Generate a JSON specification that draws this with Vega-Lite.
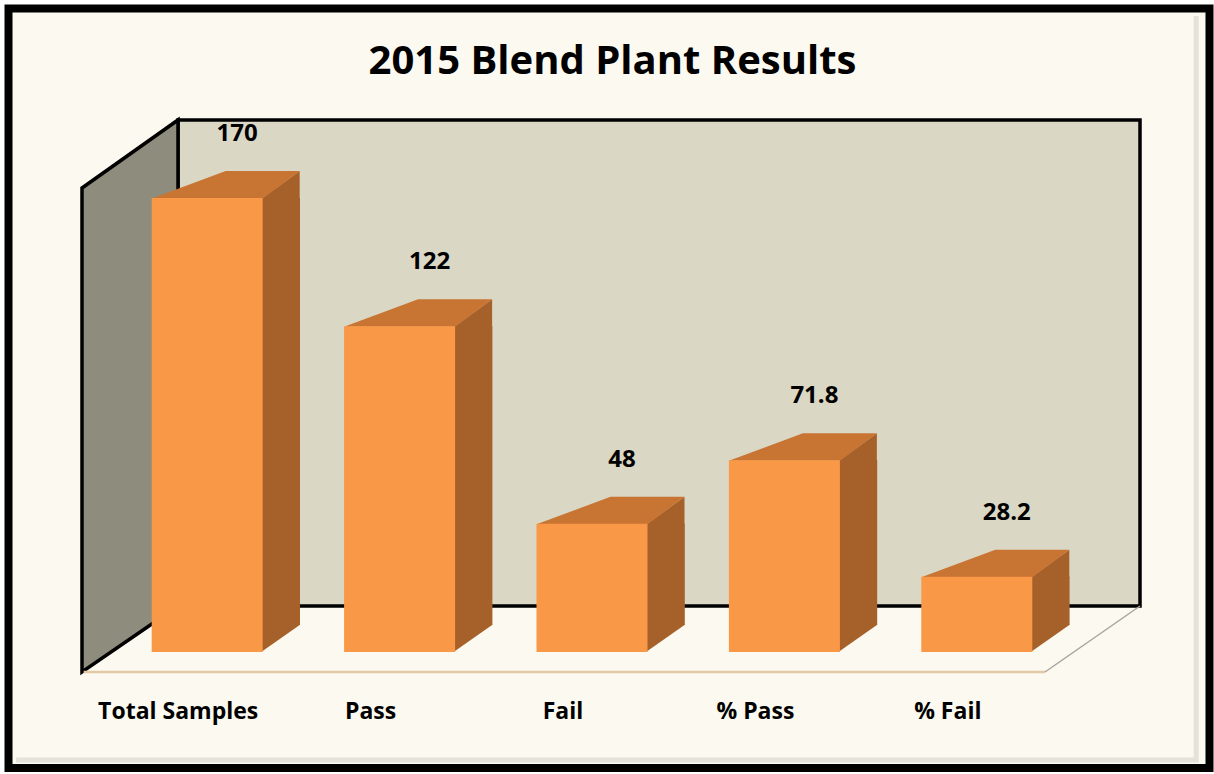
{
  "$schema": "https://vega.github.io/schema/vega-lite/v6.json",
  "width": 962,
  "height": 486,
  "autosize": {"type": "none"},
  "padding": {"left": 178, "top": 120, "right": 74, "bottom": 168},
  "background": "#FFFFFF",
  "config": {"view": {"stroke": null, "fill": null}},
  "title": {
    "text": "2015 Blend Plant Results",
    "font": "Open Sans",
    "fontWeight": "bold",
    "fontSize": 40,
    "color": "#000000",
    "anchor": "middle",
    "frame": "group",
    "dx": -46.5,
    "offset": -121.5,
    "baseline": "alphabetic"
  },
  "data": {
    "values": [
      {"category": "Total Samples", "value": 170},
      {"category": "Pass", "value": 122},
      {"category": "Fail", "value": 48},
      {"category": "% Pass", "value": 71.8},
      {"category": "% Fail", "value": 28.2}
    ]
  },
  "layer": [
    {
      "transform": [{"filter": "datum.category === 'Total Samples'"}],
      "mark": {"type": "point", "shape": "M-2.657,-5.975H9.353V1.62H-2.657Z", "size": 40000, "filled": true, "fill": "#FBF9F0", "stroke": "#000000", "strokeWidth": 8, "opacity": 1, "strokeJoin": "miter"},
      "encoding": {
        "x": {"field": "category", "type": "nominal", "scale": {"domain": ["Total Samples", "Pass", "Fail", "% Pass", "% Fail"], "paddingInner": 0.423, "paddingOuter": 0.2115}},
        "y": {"datum": 0, "type": "quantitative", "scale": {"domain": [0, 182]}, "axis": null}
      }
    },
    {
      "transform": [{"filter": "datum.category === 'Total Samples'"}],
      "mark": {"type": "point", "shape": "M9.22,-5.9V1.54H-2.58", "size": 40000, "filled": false, "stroke": "#D6D4CB", "strokeWidth": 5, "opacity": 0.6},
      "encoding": {
        "x": {"field": "category", "type": "nominal", "scale": {"domain": ["Total Samples", "Pass", "Fail", "% Pass", "% Fail"], "paddingInner": 0.423, "paddingOuter": 0.2115}},
        "y": {"datum": 0, "type": "quantitative", "scale": {"domain": [0, 182]}, "axis": null}
      }
    },
    {
      "transform": [{"filter": "datum.category === 'Total Samples'"}],
      "mark": {"type": "point", "shape": "M-0.962,-4.86H8.658V0H-0.962Z", "size": 40000, "filled": true, "fill": "#DAD7C4", "stroke": "#000000", "strokeWidth": 3.5, "opacity": 1},
      "encoding": {
        "x": {"field": "category", "type": "nominal", "scale": {"domain": ["Total Samples", "Pass", "Fail", "% Pass", "% Fail"], "paddingInner": 0.423, "paddingOuter": 0.2115}},
        "y": {"datum": 0, "type": "quantitative", "scale": {"domain": [0, 182]}, "axis": null}
      }
    },
    {
      "transform": [{"filter": "datum.category === 'Total Samples'"}],
      "mark": {"type": "point", "shape": "M-0.962,-4.86L-0.962,0L-1.922,0.66L-1.922,-4.18Z", "size": 40000, "filled": true, "fill": "#8E8C7D", "stroke": "#000000", "strokeWidth": 3.5, "opacity": 1},
      "encoding": {
        "x": {"field": "category", "type": "nominal", "scale": {"domain": ["Total Samples", "Pass", "Fail", "% Pass", "% Fail"], "paddingInner": 0.423, "paddingOuter": 0.2115}},
        "y": {"datum": 0, "type": "quantitative", "scale": {"domain": [0, 182]}, "axis": null}
      }
    },
    {
      "transform": [{"filter": "datum.category === 'Total Samples'"}],
      "mark": {"type": "point", "shape": "M-1.905,0.66L7.708,0.66", "size": 40000, "filled": false, "stroke": "#E3C9A4", "strokeWidth": 2.5, "opacity": 1},
      "encoding": {
        "x": {"field": "category", "type": "nominal", "scale": {"domain": ["Total Samples", "Pass", "Fail", "% Pass", "% Fail"], "paddingInner": 0.423, "paddingOuter": 0.2115}},
        "y": {"datum": 0, "type": "quantitative", "scale": {"domain": [0, 182]}, "axis": null}
      }
    },
    {
      "transform": [{"filter": "datum.category === 'Total Samples'"}],
      "mark": {"type": "point", "shape": "M7.708,0.66L8.658,0", "size": 40000, "filled": false, "stroke": "#A7A59C", "strokeWidth": 1.5, "opacity": 1},
      "encoding": {
        "x": {"field": "category", "type": "nominal", "scale": {"domain": ["Total Samples", "Pass", "Fail", "% Pass", "% Fail"], "paddingInner": 0.423, "paddingOuter": 0.2115}},
        "y": {"datum": 0, "type": "quantitative", "scale": {"domain": [0, 182]}, "axis": null}
      }
    },
    {
      "mark": {"type": "bar", "width": 39, "xOffset": 6.3, "yOffset": 46, "y2Offset": 19, "color": "#A6612B"},
      "encoding": {
        "x": {"field": "category", "type": "nominal", "scale": {"domain": ["Total Samples", "Pass", "Fail", "% Pass", "% Fail"], "paddingInner": 0.423, "paddingOuter": 0.2115}},
        "y": {"field": "value", "type": "quantitative", "scale": {"domain": [0, 182]}, "axis": null},
        "y2": {"datum": 0}
      }
    },
    {
      "mark": {"type": "point", "shape": "M0.54,-0.28L0.54,0L0.925,-0.27L0.925,-0.28Z", "size": 40000, "filled": true, "fill": "#A6612B", "strokeWidth": 0, "opacity": 1, "xOffset": -67, "yOffset": 46},
      "encoding": {
        "x": {"field": "category", "type": "nominal", "scale": {"domain": ["Total Samples", "Pass", "Fail", "% Pass", "% Fail"], "paddingInner": 0.423, "paddingOuter": 0.2115}},
        "y": {"datum": 0, "type": "quantitative", "scale": {"domain": [0, 182]}, "axis": null}
      }
    },
    {
      "mark": {"type": "point", "shape": "M0.54,0.01L0.925,-0.27L0.925,0.01Z", "size": 40000, "filled": true, "fill": "#A6612B", "strokeWidth": 0, "opacity": 1, "xOffset": -67, "yOffset": 46},
      "encoding": {
        "x": {"field": "category", "type": "nominal", "scale": {"domain": ["Total Samples", "Pass", "Fail", "% Pass", "% Fail"], "paddingInner": 0.423, "paddingOuter": 0.2115}},
        "y": {"field": "value", "type": "quantitative", "scale": {"domain": [0, 182]}, "axis": null}
      }
    },
    {
      "mark": {"type": "point", "shape": "M-0.555,0.005L0.555,0.005L0.925,-0.27L0.185,-0.27Z", "size": 40000, "filled": true, "fill": "#C87534", "strokeWidth": 0, "opacity": 1, "xOffset": -67, "yOffset": 46},
      "encoding": {
        "x": {"field": "category", "type": "nominal", "scale": {"domain": ["Total Samples", "Pass", "Fail", "% Pass", "% Fail"], "paddingInner": 0.423, "paddingOuter": 0.2115}},
        "y": {"field": "value", "type": "quantitative", "scale": {"domain": [0, 182]}, "axis": null}
      }
    },
    {
      "mark": {"type": "bar", "xOffset": -67, "yOffset": 46, "y2Offset": 46, "color": "#F99846"},
      "encoding": {
        "x": {
          "field": "category",
          "type": "nominal",
          "scale": {"domain": ["Total Samples", "Pass", "Fail", "% Pass", "% Fail"], "paddingInner": 0.423, "paddingOuter": 0.2115},
          "axis": {
            "title": null,
            "domain": false,
            "ticks": false,
            "tickSize": 0,
            "grid": false,
            "zindex": 2,
            "labelAngle": 0,
            "labelAlign": "center",
            "labelOffset": -96,
            "labelPadding": 112,
            "labelBaseline": "alphabetic",
            "labelFont": "Open Sans",
            "labelFontWeight": "bold",
            "labelFontSize": 23,
            "labelColor": "#000000",
            "labelLimit": 400,
            "labelOverlap": false
          }
        },
        "y": {"field": "value", "type": "quantitative", "scale": {"domain": [0, 182]}, "axis": null},
        "y2": {"datum": 0}
      }
    },
    {
      "mark": {"type": "text", "dx": -37, "dy": -11, "baseline": "alphabetic", "align": "center", "font": "Open Sans", "fontWeight": "bold", "fontSize": 24, "color": "#000000"},
      "encoding": {
        "x": {"field": "category", "type": "nominal", "scale": {"domain": ["Total Samples", "Pass", "Fail", "% Pass", "% Fail"], "paddingInner": 0.423, "paddingOuter": 0.2115}},
        "y": {"field": "value", "type": "quantitative", "scale": {"domain": [0, 182]}, "axis": null},
        "text": {"field": "value", "type": "quantitative"}
      }
    }
  ]
}
